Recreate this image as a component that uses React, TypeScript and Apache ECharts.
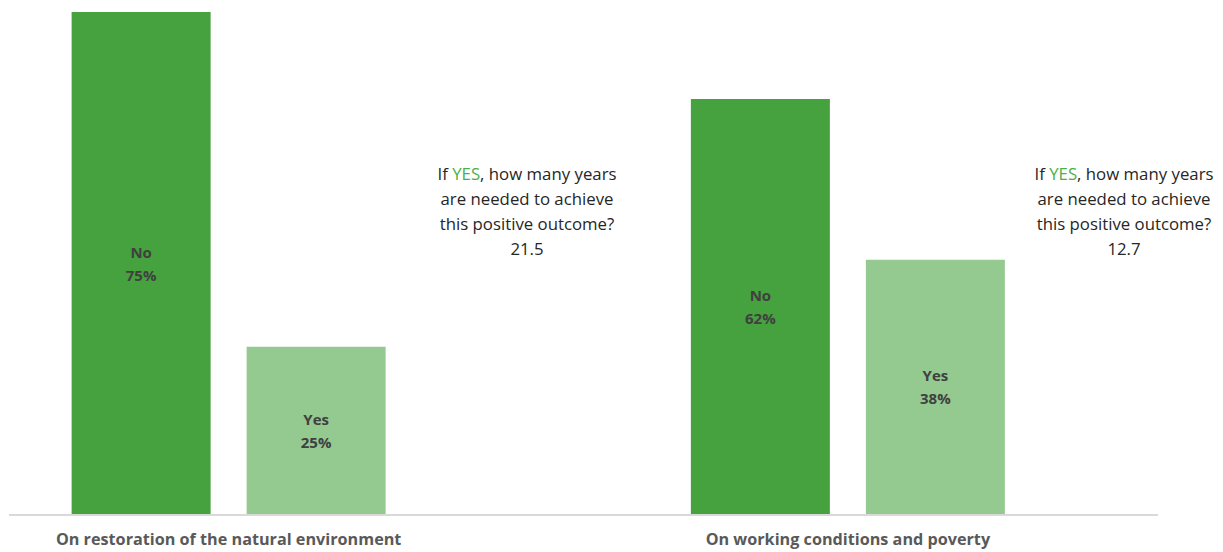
import React, { useEffect, useRef } from "react";
import * as echarts from "echarts";

const categories = ["On restoration of the natural environment", "On working conditions and poverty"];
const noValues = [75, 62];
const yesValues = [25, 38];
const yearsNeeded = ["21.5", "12.7"];
const seriesNames = ["No", "Yes"];

const DARK = "#46A13F";
const LIGHT = "#94C990";
const TEXT = "#404040";
const FONT = "Open Sans";
const SHIFT = 81; // chart canvas starts 81px left of the page so the first band is clipped like the original

export default function App() {
  const ref = useRef<HTMLDivElement>(null);
  useEffect(() => {
    document.body.style.margin = "0";
    const chart = echarts.init(ref.current!, null, { renderer: "svg" });
    const labelCfg = {
      show: true,
      position: "inside" as const,
      formatter: (p: any) => `${p.seriesName}\n${p.value}%`,
      color: TEXT,
      fontWeight: "bold" as const,
      fontSize: 15,
      lineHeight: 23,
      fontFamily: FONT,
    };
    const annotation = (cx: number, value: string) => ({
      type: "text",
      x: cx + SHIFT,
      y: 161,
      style: {
        text: `{a|If }{g|YES}{a|, how many years}\n{a|are needed to achieve}\n{a|this positive outcome?}\n{a|${value}}`,
        align: "center",
        verticalAlign: "top",
        fontFamily: FONT,
        fontSize: 16.8,
        lineHeight: 25,
        rich: {
          a: { fill: "#262626", fontFamily: FONT, fontSize: 16.8, lineHeight: 25 },
          g: { fill: "#4CB04A", fontFamily: FONT, fontSize: 16.8, lineHeight: 25 },
        },
      },
    });
    chart.setOption({
      animation: false,
      grid: { left: 0, right: 65.5, top: 12, bottom: 38, containLabel: false },
      xAxis: {
        type: "category",
        data: categories,
        axisLine: { show: false },
        axisTick: { show: false },
        axisLabel: {
          color: "#595959",
          fontWeight: "bold",
          fontSize: 16.2,
          fontFamily: FONT,
          margin: 17,
          interval: 0,
        },
      },
      yAxis: {
        type: "value",
        min: 0,
        max: 75,
        show: false,
        splitLine: { show: false },
      },
      series: [
        {
          name: seriesNames[0],
          type: "bar",
          data: noValues,
          barWidth: 139,
          barGap: "25.9%",
          itemStyle: { color: DARK },
          label: labelCfg,
        },
        {
          name: seriesNames[1],
          type: "bar",
          data: yesValues,
          barWidth: 139,
          barGap: "25.9%",
          itemStyle: { color: LIGHT },
          label: labelCfg,
        },
      ],
      graphic: [
        {
          type: "line",
          shape: { x1: 9 + SHIFT, y1: 515, x2: 1158 + SHIFT, y2: 515 },
          style: { stroke: "#D9D9D9", lineWidth: 2 },
          z: 0,
        },
        annotation(527, yearsNeeded[0]),
        annotation(1124, yearsNeeded[1]),
      ],
    });
    return () => chart.dispose();
  }, []);
  return (
    <div style={{ position: "relative", width: 1223, height: 552, overflow: "hidden" }}>
      <div
        ref={ref}
        style={{ position: "absolute", left: -SHIFT, top: 0, width: 1223 + SHIFT, height: 552 }}
      />
    </div>
  );
}
